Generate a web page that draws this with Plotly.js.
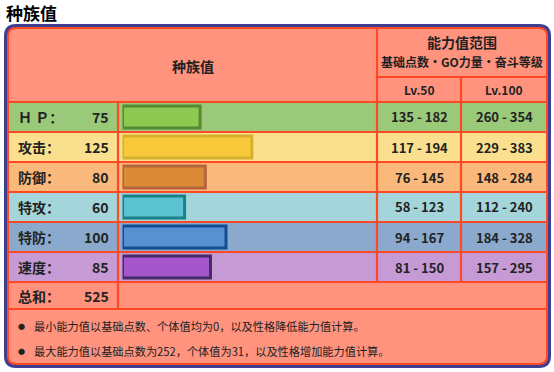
<!DOCTYPE html>
<html>
<head>
<meta charset="utf-8">
<script src="https://cdn.plot.ly/plotly-3.0.1.min.js"></script>
<style>html,body{margin:0;padding:0;background:#fff;}#chart{width:554px;height:372px;}</style>
</head>
<body>
<div id="chart"></div>
<script>
// ---- data ----
const statNames = ['HP', '攻击', '防御', '特攻', '特防', '速度'];
const statLabels = ['Ｈ Ｐ：', '攻击：', '防御：', '特攻：', '特防：', '速度：'];
const statValues = [75, 125, 80, 60, 100, 85];
const totalLabel = '总和：';
const lv50Min = [135, 117, 76, 58, 94, 81];
const lv50Max = [182, 194, 145, 123, 167, 150];
const lv100Min = [260, 229, 148, 112, 184, 157];
const lv100Max = [354, 383, 284, 240, 328, 295];
const notes = [
  '最小能力值以基础点数、个体值均为0，以及性格降低能力值计算。',
  '最大能力值以基础点数为252，个体值为31，以及性格增加能力值计算。'
];
const chartTitle = '种族值';
const headerMain = '种族值';
const headerRange = '能力值范围';
const headerRangeSub = '基础点数・GO力量・奋斗等级';
const levelHeaders = ['Lv.50', 'Lv.100'];

// ---- styles ----
const rowColors = ['#9BC97A', '#FAE08E', '#FAB97A', '#A3D5DA', '#8AA9CC', '#C69AD5'];
const barColors = ['#8DC851', '#F8C93A', '#DB8A38', '#5AC3CF', '#5891D0', '#A556CD'];
const barBorders = ['#548A33', '#D4B02C', '#B3643C', '#1D7F89', '#124E92', '#442C67'];
const salmon = '#FF937E';
const red = '#FF4824';
const blue = '#3F3F92';
const txt = '#222222';
const FONT = '"Noto Sans CJK SC", "Noto Sans", sans-serif';

const W = 554, H = 372;
const fx = x => x / W;
const fy = y => 1 - y / H;

function rr(x0, y0, x1, y1, r) {
  return `M ${fx(x0 + r)},${fy(y0)} L ${fx(x1 - r)},${fy(y0)} Q ${fx(x1)},${fy(y0)} ${fx(x1)},${fy(y0 + r)} ` +
    `L ${fx(x1)},${fy(y1 - r)} Q ${fx(x1)},${fy(y1)} ${fx(x1 - r)},${fy(y1)} ` +
    `L ${fx(x0 + r)},${fy(y1)} Q ${fx(x0)},${fy(y1)} ${fx(x0)},${fy(y1 - r)} ` +
    `L ${fx(x0)},${fy(y0 + r)} Q ${fx(x0)},${fy(y0)} ${fx(x0 + r)},${fy(y0)} Z`;
}

const shapes = [];
shapes.push({type: 'path', path: rr(4, 24, 551, 368, 12), xref: 'paper', yref: 'paper', fillcolor: blue, line: {width: 0}, layer: 'below'});
shapes.push({type: 'path', path: rr(7, 27, 548, 365, 9), xref: 'paper', yref: 'paper', fillcolor: red, line: {width: 0}, layer: 'below'});
shapes.push({type: 'path', path: rr(9, 29, 546, 363, 7), xref: 'paper', yref: 'paper', fillcolor: salmon, line: {width: 0}, layer: 'below'});

const rowTop = 102, rowH = 30;
statNames.forEach((n, i) => {
  shapes.push({type: 'rect', xref: 'paper', yref: 'paper', x0: fx(9), x1: fx(546),
    y0: fy(rowTop + rowH * i), y1: fy(rowTop + rowH * (i + 1)), fillcolor: rowColors[i], line: {width: 0}, layer: 'below'});
});

function hline(y, x0, x1) {
  shapes.push({type: 'line', xref: 'paper', yref: 'paper', x0: fx(x0), x1: fx(x1), y0: fy(y), y1: fy(y), line: {color: red, width: 2.2}, layer: 'below'});
}
function vline(x, y0, y1) {
  shapes.push({type: 'line', xref: 'paper', yref: 'paper', x0: fx(x), x1: fx(x), y0: fy(y0), y1: fy(y1), line: {color: red, width: 2.2}, layer: 'below'});
}
hline(77, 377, 546);
for (let i = 0; i <= statNames.length; i++) hline(rowTop + rowH * i, 9, 546);
hline(309, 9, 546);
vline(118, 102, 309);
vline(377, 28, 282);
vline(461, 77, 282);

const ann = [];
function t(text, x, y, size, opts) {
  opts = opts || {};
  ann.push({text: text, xref: 'paper', yref: 'paper', x: fx(x), y: fy(y), showarrow: false,
    xanchor: opts.xa || 'center', yanchor: 'middle',
    font: {family: FONT, size: size, color: opts.color || txt, weight: opts.bold === false ? 'normal' : 'bold'}});
}
t(chartTitle, 4, 13, 17, {xa: 'left', color: '#000'});
t(headerMain, 193, 66, 14);
t(headerRange, 462, 42, 14);
t(headerRangeSub, 462, 62, 12);
t(levelHeaders[0], 419, 89, 12);
t(levelHeaders[1], 504, 89, 12);
statNames.forEach((n, i) => {
  const cy = rowTop + rowH * i + 15;
  t(statLabels[i], 16, cy, 14, {xa: 'left'});
  t(String(statValues[i]), 111, cy, 14, {xa: 'right'});
  t(lv50Min[i] + ' - ' + lv50Max[i], 419, cy, 13);
  t(lv100Min[i] + ' - ' + lv100Max[i], 504, cy, 13);
});
const total = statValues.reduce((a, b) => a + b, 0);
t(totalLabel, 16, 296, 14, {xa: 'left'});
t(String(total), 111, 296, 14, {xa: 'right'});
notes.forEach((n, i) => {
  const y = 326 + 25 * i;
  t('●', 21, y, 7, {bold: false});
  t(n, 32, y, 11.2, {xa: 'left', bold: false});
});

const trace = {
  type: 'bar', orientation: 'h',
  x: statValues, y: statNames,
  width: 0.733,
  marker: {color: barColors, line: {color: barBorders, width: 3}},
  hoverinfo: 'none', showlegend: false
};

const layout = {
  width: W, height: H,
  margin: {l: 0, r: 0, t: 0, b: 0},
  paper_bgcolor: '#ffffff', plot_bgcolor: 'rgba(0,0,0,0)',
  xaxis: {domain: [fx(122.5), fx(377)], range: [0, 245.9], visible: false, fixedrange: true},
  yaxis: {domain: [fy(282), fy(102)], type: 'category', categoryarray: statNames, range: [5.5, -0.5], visible: false, fixedrange: true},
  shapes: shapes,
  annotations: ann,
  showlegend: false
};

Plotly.newPlot('chart', [trace], layout, {displayModeBar: false, staticPlot: true});
</script>
</body>
</html>
